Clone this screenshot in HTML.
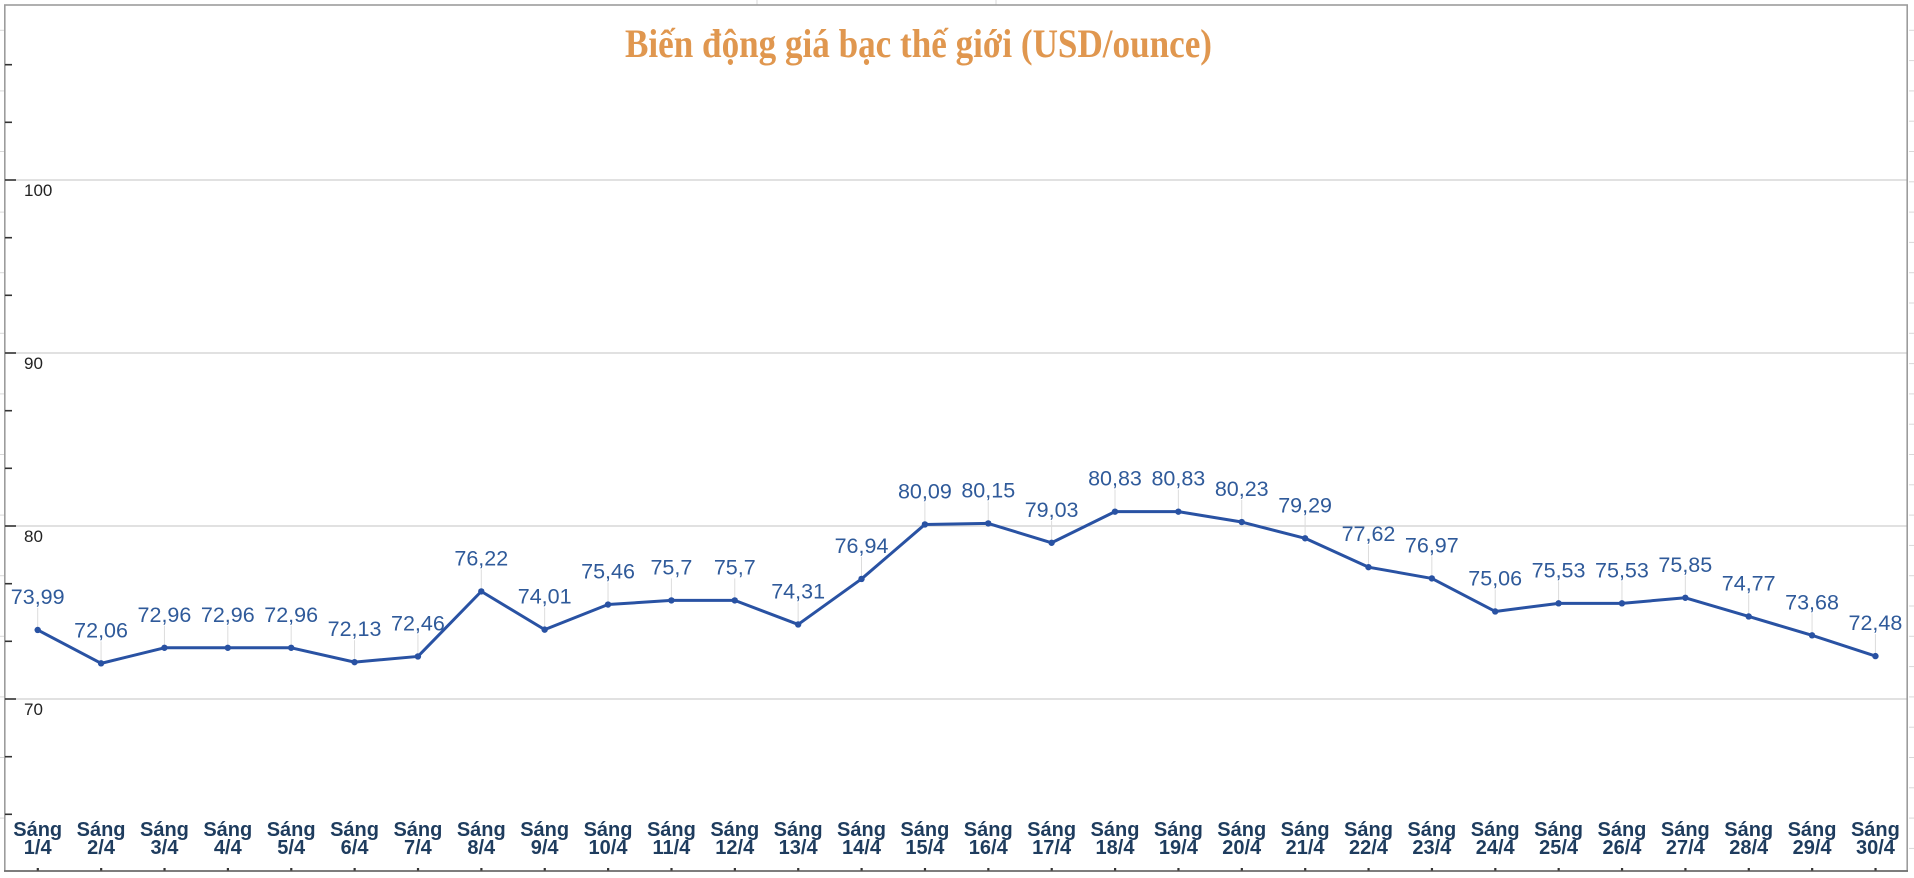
<!DOCTYPE html>
<html>
<head>
<meta charset="utf-8">
<style>
html,body{margin:0;padding:0;background:#fff;}
svg{display:block;}
</style>
</head>
<body>
<svg width="1914" height="878" viewBox="0 0 1914 878" xmlns="http://www.w3.org/2000/svg">
<rect x="0" y="0" width="1914" height="878" fill="#fff"/>
<!-- faint outside spreadsheet row lines -->
<g stroke="#d8d8d8" stroke-width="1">
<line x1="0" y1="30.3" x2="4" y2="30.3"/><line x1="0" y1="90.9" x2="4" y2="90.9"/><line x1="0" y1="151.5" x2="4" y2="151.5"/><line x1="0" y1="212.1" x2="4" y2="212.1"/><line x1="0" y1="272.7" x2="4" y2="272.7"/><line x1="0" y1="333.3" x2="4" y2="333.3"/><line x1="0" y1="393.9" x2="4" y2="393.9"/><line x1="0" y1="454.5" x2="4" y2="454.5"/><line x1="0" y1="515.1" x2="4" y2="515.1"/><line x1="0" y1="575.7" x2="4" y2="575.7"/><line x1="0" y1="636.3" x2="4" y2="636.3"/><line x1="0" y1="696.9" x2="4" y2="696.9"/><line x1="0" y1="757.5" x2="4" y2="757.5"/><line x1="0" y1="818.1" x2="4" y2="818.1"/>
<line x1="1909" y1="30.3" x2="1914" y2="30.3"/><line x1="1909" y1="60.6" x2="1914" y2="60.6"/><line x1="1909" y1="90.9" x2="1914" y2="90.9"/><line x1="1909" y1="121.2" x2="1914" y2="121.2"/><line x1="1909" y1="151.5" x2="1914" y2="151.5"/><line x1="1909" y1="181.8" x2="1914" y2="181.8"/><line x1="1909" y1="212.1" x2="1914" y2="212.1"/><line x1="1909" y1="242.4" x2="1914" y2="242.4"/><line x1="1909" y1="272.7" x2="1914" y2="272.7"/><line x1="1909" y1="303" x2="1914" y2="303"/><line x1="1909" y1="333.3" x2="1914" y2="333.3"/><line x1="1909" y1="363.6" x2="1914" y2="363.6"/><line x1="1909" y1="393.9" x2="1914" y2="393.9"/><line x1="1909" y1="424.2" x2="1914" y2="424.2"/><line x1="1909" y1="454.5" x2="1914" y2="454.5"/><line x1="1909" y1="484.8" x2="1914" y2="484.8"/><line x1="1909" y1="515.1" x2="1914" y2="515.1"/><line x1="1909" y1="545.4" x2="1914" y2="545.4"/><line x1="1909" y1="575.7" x2="1914" y2="575.7"/><line x1="1909" y1="606" x2="1914" y2="606"/><line x1="1909" y1="636.3" x2="1914" y2="636.3"/><line x1="1909" y1="666.6" x2="1914" y2="666.6"/><line x1="1909" y1="696.9" x2="1914" y2="696.9"/><line x1="1909" y1="727.2" x2="1914" y2="727.2"/><line x1="1909" y1="757.5" x2="1914" y2="757.5"/><line x1="1909" y1="787.8" x2="1914" y2="787.8"/><line x1="1909" y1="818.1" x2="1914" y2="818.1"/><line x1="1909" y1="848.4" x2="1914" y2="848.4"/>
<line x1="757" y1="0" x2="757" y2="5"/><line x1="996" y1="0" x2="996" y2="5"/>
</g>

<!-- gridlines -->
<g stroke="#cfcfcf" stroke-width="1.2">
<line x1="5" y1="180" x2="1907" y2="180"/>
<line x1="5" y1="353" x2="1907" y2="353"/>
<line x1="5" y1="526" x2="1907" y2="526"/>
<line x1="5" y1="699" x2="1907" y2="699"/>
</g>

<!-- frame -->
<rect x="4.8" y="5" width="1902.4" height="866" fill="none" stroke="#9c9c9c" stroke-width="1.6"/>
<line x1="4" y1="871" x2="1908" y2="871" stroke="#666" stroke-width="1.6"/>

<!-- left ticks -->
<g stroke="#333" stroke-width="1.6">
<line x1="5" y1="180" x2="16" y2="180"/><line x1="5" y1="353" x2="16" y2="353"/><line x1="5" y1="526" x2="16" y2="526"/><line x1="5" y1="699" x2="16" y2="699"/>
<line x1="5" y1="64.7" x2="12" y2="64.7"/><line x1="5" y1="122.3" x2="12" y2="122.3"/><line x1="5" y1="237.7" x2="12" y2="237.7"/><line x1="5" y1="295.3" x2="12" y2="295.3"/><line x1="5" y1="410.7" x2="12" y2="410.7"/><line x1="5" y1="468.3" x2="12" y2="468.3"/><line x1="5" y1="583.7" x2="12" y2="583.7"/><line x1="5" y1="641.3" x2="12" y2="641.3"/><line x1="5" y1="756.7" x2="12" y2="756.7"/><line x1="5" y1="814.3" x2="12" y2="814.3"/>
</g>

<!-- y labels -->
<g font-family="Liberation Sans, Arial, sans-serif" font-size="17" fill="#222">
<text x="24" y="196">100</text>
<text x="24" y="369">90</text>
<text x="24" y="542">80</text>
<text x="24" y="715">70</text>
</g>

<!-- title -->
<text x="918.5" y="57" text-anchor="middle" font-family="Liberation Serif, Times New Roman, serif" font-weight="bold" font-size="40" fill="#e0974f" textLength="587" lengthAdjust="spacingAndGlyphs">Biến động giá bạc thế giới (USD/ounce)</text>

<!-- leader lines -->
<g stroke="#dcdcdc" stroke-width="1">
<line x1="37.7" y1="608" x2="37.7" y2="630"/>
<line x1="101.07" y1="641.4" x2="101.07" y2="663.4"/>
<line x1="164.44" y1="625.8" x2="164.44" y2="647.8"/>
<line x1="227.81" y1="625.8" x2="227.81" y2="647.8"/>
<line x1="291.18" y1="625.8" x2="291.18" y2="647.8"/>
<line x1="354.55" y1="640.2" x2="354.55" y2="662.2"/>
<line x1="417.92" y1="634.4" x2="417.92" y2="656.4"/>
<line x1="481.29" y1="569.4" x2="481.29" y2="591.4"/>
<line x1="544.66" y1="607.6" x2="544.66" y2="629.6"/>
<line x1="608.03" y1="582.5" x2="608.03" y2="604.5"/>
<line x1="671.4" y1="578.4" x2="671.4" y2="600.4"/>
<line x1="734.77" y1="578.4" x2="734.77" y2="600.4"/>
<line x1="798.14" y1="602.4" x2="798.14" y2="624.4"/>
<line x1="861.51" y1="556.9" x2="861.51" y2="578.9"/>
<line x1="924.88" y1="502.4" x2="924.88" y2="524.4"/>
<line x1="988.25" y1="501.4" x2="988.25" y2="523.4"/>
<line x1="1051.62" y1="520.8" x2="1051.62" y2="542.8"/>
<line x1="1114.99" y1="489.6" x2="1114.99" y2="511.6"/>
<line x1="1178.36" y1="489.6" x2="1178.36" y2="511.6"/>
<line x1="1241.73" y1="500" x2="1241.73" y2="522"/>
<line x1="1305.1" y1="516.3" x2="1305.1" y2="538.3"/>
<line x1="1368.47" y1="545.2" x2="1368.47" y2="567.2"/>
<line x1="1431.84" y1="556.4" x2="1431.84" y2="578.4"/>
<line x1="1495.21" y1="589.5" x2="1495.21" y2="611.5"/>
<line x1="1558.58" y1="581.3" x2="1558.58" y2="603.3"/>
<line x1="1621.95" y1="581.3" x2="1621.95" y2="603.3"/>
<line x1="1685.32" y1="575.8" x2="1685.32" y2="597.8"/>
<line x1="1748.69" y1="594.5" x2="1748.69" y2="616.5"/>
<line x1="1812.06" y1="613.3" x2="1812.06" y2="635.3"/>
<line x1="1875.43" y1="634.1" x2="1875.43" y2="656.1"/>
</g>

<!-- series line -->
<polyline fill="none" stroke="#2952a3" stroke-width="3" stroke-linejoin="round" stroke-linecap="round"
points="37.7,629.97 101.07,663.36 164.44,647.79 227.81,647.79 291.18,647.79 354.55,662.15 417.92,656.44 481.29,591.39 544.66,629.63 608.03,604.54 671.4,600.39 734.77,600.39 798.14,624.44 861.51,578.94 924.88,524.44 988.25,523.4 1051.62,542.78 1114.99,511.64 1178.36,511.64 1241.73,522.02 1305.1,538.28 1368.47,567.17 1431.84,578.42 1495.21,611.46 1558.58,603.33 1621.95,603.33 1685.32,597.79 1748.69,616.48 1812.06,635.34 1875.43,656.1"/>

<!-- points -->
<g fill="#2952a3">
<circle cx="37.7" cy="629.97" r="3.2"/><circle cx="101.07" cy="663.36" r="3.2"/><circle cx="164.44" cy="647.79" r="3.2"/><circle cx="227.81" cy="647.79" r="3.2"/><circle cx="291.18" cy="647.79" r="3.2"/><circle cx="354.55" cy="662.15" r="3.2"/><circle cx="417.92" cy="656.44" r="3.2"/><circle cx="481.29" cy="591.39" r="3.2"/><circle cx="544.66" cy="629.63" r="3.2"/><circle cx="608.03" cy="604.54" r="3.2"/><circle cx="671.4" cy="600.39" r="3.2"/><circle cx="734.77" cy="600.39" r="3.2"/><circle cx="798.14" cy="624.44" r="3.2"/><circle cx="861.51" cy="578.94" r="3.2"/><circle cx="924.88" cy="524.44" r="3.2"/><circle cx="988.25" cy="523.4" r="3.2"/><circle cx="1051.62" cy="542.78" r="3.2"/><circle cx="1114.99" cy="511.64" r="3.2"/><circle cx="1178.36" cy="511.64" r="3.2"/><circle cx="1241.73" cy="522.02" r="3.2"/><circle cx="1305.1" cy="538.28" r="3.2"/><circle cx="1368.47" cy="567.17" r="3.2"/><circle cx="1431.84" cy="578.42" r="3.2"/><circle cx="1495.21" cy="611.46" r="3.2"/><circle cx="1558.58" cy="603.33" r="3.2"/><circle cx="1621.95" cy="603.33" r="3.2"/><circle cx="1685.32" cy="597.79" r="3.2"/><circle cx="1748.69" cy="616.48" r="3.2"/><circle cx="1812.06" cy="635.34" r="3.2"/><circle cx="1875.43" cy="656.1" r="3.2"/>
</g>

<!-- data labels -->
<g font-family="Liberation Sans, Arial, sans-serif" font-size="21.5" fill="#2f5a9a" text-anchor="middle">
<text x="37.7" y="604">73,99</text>
<text x="101.07" y="637.4">72,06</text>
<text x="164.44" y="621.8">72,96</text>
<text x="227.81" y="621.8">72,96</text>
<text x="291.18" y="621.8">72,96</text>
<text x="354.55" y="636.2">72,13</text>
<text x="417.92" y="630.4">72,46</text>
<text x="481.29" y="565.4">76,22</text>
<text x="544.66" y="603.6">74,01</text>
<text x="608.03" y="578.5">75,46</text>
<text x="671.4" y="574.4">75,7</text>
<text x="734.77" y="574.4">75,7</text>
<text x="798.14" y="598.4">74,31</text>
<text x="861.51" y="552.9">76,94</text>
<text x="924.88" y="498.4">80,09</text>
<text x="988.25" y="497.4">80,15</text>
<text x="1051.62" y="516.8">79,03</text>
<text x="1114.99" y="485.6">80,83</text>
<text x="1178.36" y="485.6">80,83</text>
<text x="1241.73" y="496">80,23</text>
<text x="1305.1" y="512.3">79,29</text>
<text x="1368.47" y="541.2">77,62</text>
<text x="1431.84" y="552.4">76,97</text>
<text x="1495.21" y="585.5">75,06</text>
<text x="1558.58" y="577.3">75,53</text>
<text x="1621.95" y="577.3">75,53</text>
<text x="1685.32" y="571.8">75,85</text>
<text x="1748.69" y="590.5">74,77</text>
<text x="1812.06" y="609.3">73,68</text>
<text x="1875.43" y="630.1">72,48</text>
</g>

<!-- x tick dots -->
<g fill="#333">
<rect x="36.7" y="868" width="2.2" height="2.5"/><rect x="100.07" y="868" width="2.2" height="2.5"/><rect x="163.44" y="868" width="2.2" height="2.5"/><rect x="226.81" y="868" width="2.2" height="2.5"/><rect x="290.18" y="868" width="2.2" height="2.5"/><rect x="353.55" y="868" width="2.2" height="2.5"/><rect x="416.92" y="868" width="2.2" height="2.5"/><rect x="480.29" y="868" width="2.2" height="2.5"/><rect x="543.66" y="868" width="2.2" height="2.5"/><rect x="607.03" y="868" width="2.2" height="2.5"/><rect x="670.4" y="868" width="2.2" height="2.5"/><rect x="733.77" y="868" width="2.2" height="2.5"/><rect x="797.14" y="868" width="2.2" height="2.5"/><rect x="860.51" y="868" width="2.2" height="2.5"/><rect x="923.88" y="868" width="2.2" height="2.5"/><rect x="987.25" y="868" width="2.2" height="2.5"/><rect x="1050.62" y="868" width="2.2" height="2.5"/><rect x="1113.99" y="868" width="2.2" height="2.5"/><rect x="1177.36" y="868" width="2.2" height="2.5"/><rect x="1240.73" y="868" width="2.2" height="2.5"/><rect x="1304.1" y="868" width="2.2" height="2.5"/><rect x="1367.47" y="868" width="2.2" height="2.5"/><rect x="1430.84" y="868" width="2.2" height="2.5"/><rect x="1494.21" y="868" width="2.2" height="2.5"/><rect x="1557.58" y="868" width="2.2" height="2.5"/><rect x="1620.95" y="868" width="2.2" height="2.5"/><rect x="1684.32" y="868" width="2.2" height="2.5"/><rect x="1747.69" y="868" width="2.2" height="2.5"/><rect x="1811.06" y="868" width="2.2" height="2.5"/><rect x="1874.43" y="868" width="2.2" height="2.5"/>
</g>

<!-- x labels -->
<g font-family="Liberation Sans, Arial, sans-serif" font-size="20" font-weight="bold" fill="#1e3c5e" text-anchor="middle">
<text x="37.7" y="836">Sáng</text><text x="37.7" y="854">1/4</text>
<text x="101.07" y="836">Sáng</text><text x="101.07" y="854">2/4</text>
<text x="164.44" y="836">Sáng</text><text x="164.44" y="854">3/4</text>
<text x="227.81" y="836">Sáng</text><text x="227.81" y="854">4/4</text>
<text x="291.18" y="836">Sáng</text><text x="291.18" y="854">5/4</text>
<text x="354.55" y="836">Sáng</text><text x="354.55" y="854">6/4</text>
<text x="417.92" y="836">Sáng</text><text x="417.92" y="854">7/4</text>
<text x="481.29" y="836">Sáng</text><text x="481.29" y="854">8/4</text>
<text x="544.66" y="836">Sáng</text><text x="544.66" y="854">9/4</text>
<text x="608.03" y="836">Sáng</text><text x="608.03" y="854">10/4</text>
<text x="671.4" y="836">Sáng</text><text x="671.4" y="854">11/4</text>
<text x="734.77" y="836">Sáng</text><text x="734.77" y="854">12/4</text>
<text x="798.14" y="836">Sáng</text><text x="798.14" y="854">13/4</text>
<text x="861.51" y="836">Sáng</text><text x="861.51" y="854">14/4</text>
<text x="924.88" y="836">Sáng</text><text x="924.88" y="854">15/4</text>
<text x="988.25" y="836">Sáng</text><text x="988.25" y="854">16/4</text>
<text x="1051.62" y="836">Sáng</text><text x="1051.62" y="854">17/4</text>
<text x="1114.99" y="836">Sáng</text><text x="1114.99" y="854">18/4</text>
<text x="1178.36" y="836">Sáng</text><text x="1178.36" y="854">19/4</text>
<text x="1241.73" y="836">Sáng</text><text x="1241.73" y="854">20/4</text>
<text x="1305.1" y="836">Sáng</text><text x="1305.1" y="854">21/4</text>
<text x="1368.47" y="836">Sáng</text><text x="1368.47" y="854">22/4</text>
<text x="1431.84" y="836">Sáng</text><text x="1431.84" y="854">23/4</text>
<text x="1495.21" y="836">Sáng</text><text x="1495.21" y="854">24/4</text>
<text x="1558.58" y="836">Sáng</text><text x="1558.58" y="854">25/4</text>
<text x="1621.95" y="836">Sáng</text><text x="1621.95" y="854">26/4</text>
<text x="1685.32" y="836">Sáng</text><text x="1685.32" y="854">27/4</text>
<text x="1748.69" y="836">Sáng</text><text x="1748.69" y="854">28/4</text>
<text x="1812.06" y="836">Sáng</text><text x="1812.06" y="854">29/4</text>
<text x="1875.43" y="836">Sáng</text><text x="1875.43" y="854">30/4</text>
</g>
</svg>
</body>
</html>
